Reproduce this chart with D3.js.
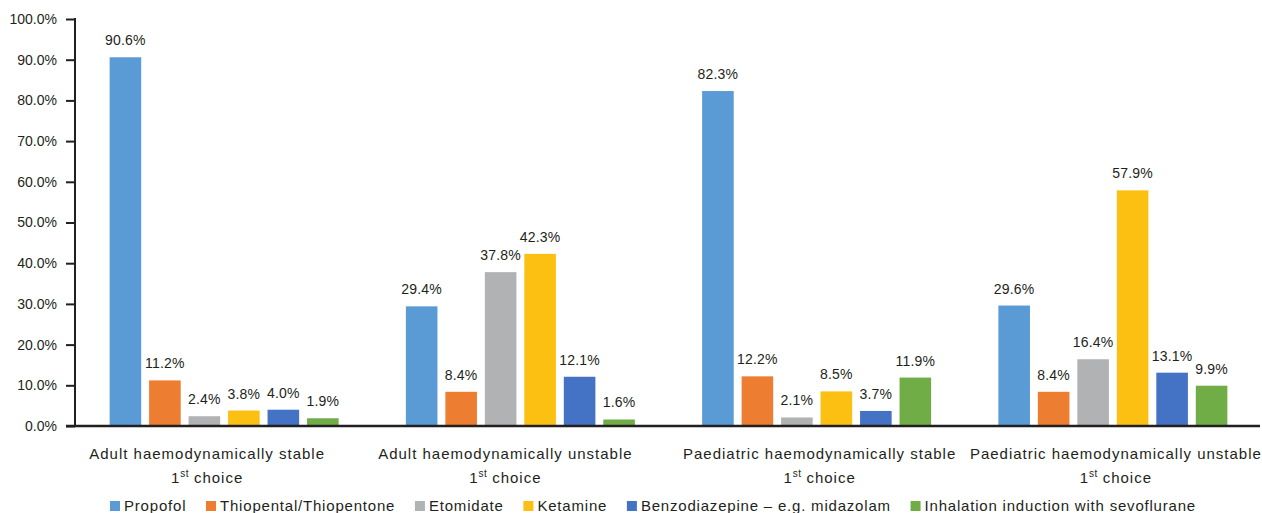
<!DOCTYPE html>
<html>
<head>
<meta charset="utf-8">
<script src="https://cdn.jsdelivr.net/npm/d3@7"></script>
<style>
  body { margin: 0; background: #fff; }
  text { font-family: "Liberation Sans", Arial, sans-serif; fill: #231f20; }
</style>
</head>
<body>
<svg id="chart" width="1262" height="513"></svg>
<script>
// data
var categories = [
  "Adult haemodynamically stable",
  "Adult haemodynamically unstable",
  "Paediatric haemodynamically stable",
  "Paediatric haemodynamically unstable"
];
var seriesNames = [
  "Propofol",
  "Thiopental/Thiopentone",
  "Etomidate",
  "Ketamine",
  "Benzodiazepine \u2013 e.g. midazolam",
  "Inhalation induction with sevoflurane"
];
var propofol    = [90.6, 29.4, 82.3, 29.6];
var thiopental  = [11.2, 8.4, 12.2, 8.4];
var etomidate   = [2.4, 37.8, 2.1, 16.4];
var ketamine    = [3.8, 42.3, 8.5, 57.9];
var benzo       = [4.0, 12.1, 3.7, 13.1];
var inhalation  = [1.9, 1.6, 11.9, 9.9];
var yTicks = [0, 10, 20, 30, 40, 50, 60, 70, 80, 90, 100];
var colors = ["#5b9bd5", "#ed7d31", "#b1b2b4", "#fcc012", "#4472c4", "#70ad47"];

var values = [propofol, thiopental, etomidate, ketamine, benzo, inhalation];

// category labels in the original sit a little off the group centres
var labelShift = [-16, -14, 4, 4];

var svg = d3.select("#chart"),
    margin = {left: 75, right: 2, top: 19, bottom: 87},
    width = 1262 - margin.left - margin.right,
    height = 513 - margin.top - margin.bottom,
    g = svg.append("g").attr("transform", "translate(" + margin.left + "," + margin.top + ")");

var x0 = d3.scaleBand().domain(categories).range([0, width]);
var groupW = 229;
var x1 = d3.scaleBand()
    .domain(d3.range(seriesNames.length))
    .range([(x0.bandwidth() - groupW) / 2 + 1, (x0.bandwidth() + groupW) / 2 + 1])
    .paddingInner(0.2);
var y = d3.scaleLinear().domain([0, 100]).range([height, 0]);

// bars
var group = g.selectAll(".grp")
  .data(categories)
  .enter().append("g")
    .attr("class", "grp")
    .attr("transform", function(d) { return "translate(" + x0(d) + ",0)"; });

group.selectAll("rect")
  .data(function(d, i) { return values.map(function(s, j) { return {s: j, v: s[i]}; }); })
  .enter().append("rect")
    .attr("x", function(d) { return x1(d.s); })
    .attr("y", function(d) { return y(d.v); })
    .attr("width", x1.bandwidth())
    .attr("height", function(d) { return height - y(d.v); })
    .attr("fill", function(d) { return colors[d.s]; });

group.selectAll(".val")
  .data(function(d, i) { return values.map(function(s, j) { return {s: j, v: s[i]}; }); })
  .enter().append("text")
    .attr("class", "val")
    .attr("x", function(d) { return x1(d.s) + x1.bandwidth() / 2; })
    .attr("y", function(d) { return y(d.v) - 12; })
    .attr("text-anchor", "middle")
    .style("font-size", "14px")
    .style("letter-spacing", "0.2px")
    .text(function(d) { return d.v.toFixed(1) + "%"; });

// y axis
var yAxis = g.append("g")
    .call(d3.axisLeft(y).tickValues(yTicks).tickSize(9).tickPadding(9)
      .tickFormat(function(d) { return d.toFixed(1) + "%"; }));
yAxis.select(".domain").remove();
yAxis.selectAll("line").attr("stroke", "#231f20").attr("stroke-width", 2);
yAxis.selectAll("text").style("font-size", "14px").attr("fill", "#231f20")
    .style("font-family", "'Liberation Sans', Arial, sans-serif");

g.append("line")
    .attr("x1", 0).attr("x2", 0)
    .attr("y1", y(100) - 1).attr("y2", height)
    .attr("stroke", "#231f20").attr("stroke-width", 2);
g.append("line")
    .attr("x1", -9).attr("x2", width)
    .attr("y1", height).attr("y2", height)
    .attr("stroke", "#231f20").attr("stroke-width", 2.5);

// category labels
var cat = g.selectAll(".cat")
  .data(categories)
  .enter().append("g")
    .attr("class", "cat")
    .attr("transform", function(d, i) { return "translate(" + (x0(d) + x0.bandwidth() / 2 + labelShift[i]) + "," + height + ")"; });

cat.append("text")
    .attr("y", 33)
    .attr("text-anchor", "middle")
    .style("font-size", "15px")
    .style("letter-spacing", "1px")
    .text(function(d) { return d; });

var second = cat.append("text")
    .attr("y", 57)
    .attr("text-anchor", "middle")
    .style("font-size", "15px")
    .style("letter-spacing", "1px");
second.append("tspan").text("1");
second.append("tspan").attr("dy", -6).style("font-size", "10px").style("letter-spacing", "0.3px").text("st");
second.append("tspan").attr("dy", 6).text(" choice");

// legend
var legend = svg.append("g").attr("transform", "translate(0,511)");
var items = legend.selectAll("g")
  .data(seriesNames)
  .enter().append("g");
items.append("rect")
    .attr("y", -10)
    .attr("width", 10)
    .attr("height", 10)
    .attr("fill", function(d, i) { return colors[i]; });
items.append("text")
    .attr("x", 14)
    .attr("y", 0)
    .style("font-size", "15px")
    .style("letter-spacing", "0.8px")
    .text(function(d) { return d; });

var widths = [];
items.each(function() { widths.push(14 + d3.select(this).select("text").node().getComputedTextLength()); });
var legStart = 110, legEnd = 1196;
var gap = (legEnd - legStart - d3.sum(widths)) / (widths.length - 1);
var pos = legStart;
items.attr("transform", function(d, i) {
  var p = pos; pos += widths[i] + gap;
  return "translate(" + p + ",0)";
});
</script>
</body>
</html>
